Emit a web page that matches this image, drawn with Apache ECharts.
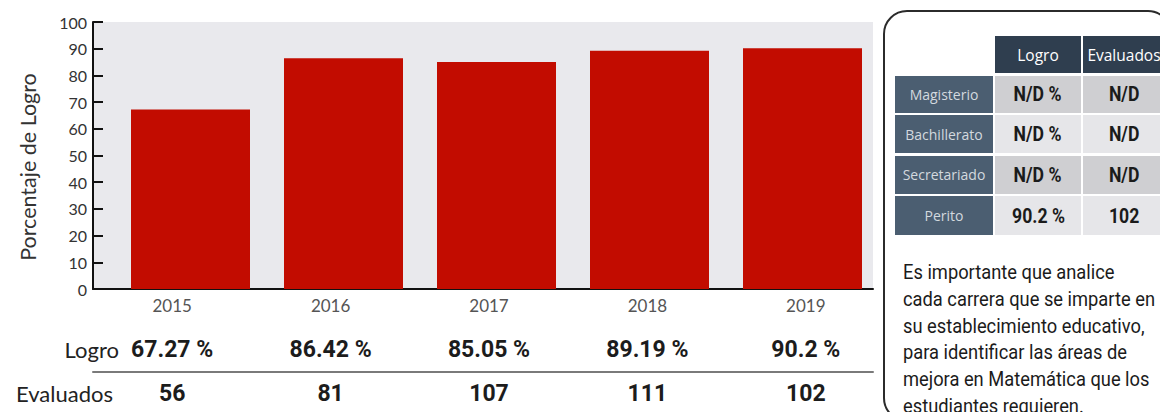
<!DOCTYPE html>
<html lang="es">
<head>
<meta charset="utf-8">
<title>Porcentaje de Logro</title>
<script src="https://cdn.jsdelivr.net/npm/echarts@6/dist/echarts.min.js"></script>
<style>
  html, body { margin: 0; padding: 0; background: #fff; }
  body { width: 1160px; height: 412px; overflow: hidden; position: relative; }
  #chart { position: absolute; left: 0; top: 0; width: 1160px; height: 412px; }
  #panel {
    position: absolute; left: 883px; top: 10px; width: 289px; height: 412px;
    box-sizing: border-box; border: 2px solid #2b2b2b; border-radius: 24px;
  }
  #careers {
    position: absolute; left: 895px; top: 36px;
    display: grid; grid-template-columns: 98px 86px 82px;
    grid-template-rows: 37px 37px 38px 38px 39px;
    column-gap: 2px; row-gap: 2.5px;
  }
  #careers div { display: flex; align-items: center; justify-content: center; white-space: nowrap; overflow: visible; }
  #careers .head { background: #2f3e4f; color: #fff; font: 15.5px "Open Sans", sans-serif; }
  #careers .name { background: #4b5e71; color: #d3d9df; font: 14px "Open Sans", sans-serif; }
  #careers .val { color: #1b1b1b; font: bold 21px Roboto, sans-serif; }
  #careers .val span { display: inline-block; transform: scaleX(0.84); }
  #careers .dark { background: #cfcfd2; }
  #careers .light { background: #e6e6e9; }
  #note {
    position: absolute; left: 903px; top: 259px; width: 290px;
    font: 20px Roboto, sans-serif; line-height: 26.8px; color: #1b1b1b;
    white-space: nowrap; transform: scaleX(0.915); transform-origin: 0 0;
  }
</style>
</head>
<body>
<div id="chart"></div>
<div id="panel"></div>
<div id="careers"></div>
<div id="note">Es importante que analice<br>cada carrera que se imparte en<br>su establecimiento educativo,<br>para identificar las áreas de<br>mejora en Matemática que los<br>estudiantes requieren.</div>
<script>
// Yearly results
const years = ['2015', '2016', '2017', '2018', '2019'];
const logro = [67.27, 86.42, 85.05, 89.19, 90.2];
const evaluados = [56, 81, 107, 111, 102];

// Results by career (null = no data)
const careers = ['Magisterio', 'Bachillerato', 'Secretariado', 'Perito'];
const careerLogro = [null, null, null, 90.2];
const careerEvaluados = [null, null, null, 102];
const careerHeaders = ['Logro', 'Evaluados'];

// Career table
const table = document.getElementById('careers');
const cell = (cls, txt, squeeze) => {
  const d = document.createElement('div');
  if (cls) d.className = cls;
  if (squeeze) {
    const s = document.createElement('span');
    s.textContent = txt;
    d.appendChild(s);
  } else {
    d.textContent = txt;
  }
  table.appendChild(d);
};
cell('', '');
careerHeaders.forEach(h => cell('head', h));
careers.forEach((c, i) => {
  const shade = i % 2 === 0 ? 'dark' : 'light';
  cell('name', c);
  cell('val ' + shade, careerLogro[i] == null ? 'N/D %' : careerLogro[i] + ' %', true);
  cell('val ' + shade, careerEvaluados[i] == null ? 'N/D' : String(careerEvaluados[i]), true);
});

const chart = echarts.init(document.getElementById('chart'), null, { renderer: 'svg' });
const plot = { top: 22, bottom: 123 };
const rowValueLabel = { margin: 0, verticalAlign: 'middle', fontFamily: 'Roboto', fontWeight: 'bold', fontSize: 23, color: '#1c1c1c' };
const rowTitle = { fontFamily: 'Lato', fontSize: 22, color: '#222', verticalAlign: 'middle' };

chart.setOption({
  animation: false,
  grid: [
    // frame: background, value axis, base line
    { left: 93, right: 287, top: plot.top, bottom: plot.bottom, show: true, backgroundColor: '#e9e9ed', borderWidth: 0 },
    // bars
    { left: 114, right: 281, top: plot.top, bottom: plot.bottom },
    // year / logro / evaluados rows
    { left: 93, right: 275, top: plot.top, bottom: plot.bottom }
  ],
  xAxis: [
    { gridIndex: 0, type: 'category', data: years,
      axisLine: { lineStyle: { color: '#111', width: 2 } },
      axisTick: { show: false }, axisLabel: { show: false } },
    { gridIndex: 1, type: 'category', data: years, show: false },
    { gridIndex: 2, type: 'category', data: years,
      axisLine: { show: false }, axisTick: { show: false },
      axisLabel: { margin: 8, fontFamily: 'Lato', fontSize: 17, color: '#555' } },
    { gridIndex: 2, type: 'category', data: logro.map(v => v + ' %'), position: 'bottom', offset: 60,
      axisLine: { show: false }, axisTick: { show: false },
      axisLabel: rowValueLabel,
      name: 'Logro', nameLocation: 'start', nameGap: -26, nameTextStyle: rowTitle },
    { gridIndex: 0, type: 'category', data: years, position: 'bottom', offset: 83,
      axisLine: { lineStyle: { color: '#7a7a7a', width: 2 } },
      axisTick: { show: false }, axisLabel: { show: false } },
    { gridIndex: 2, type: 'category', data: evaluados.map(String), position: 'bottom', offset: 104,
      axisLine: { show: false }, axisTick: { show: false },
      axisLabel: rowValueLabel,
      name: 'Evaluados', nameLocation: 'start', nameGap: -20, nameTextStyle: rowTitle }
  ],
  yAxis: [
    { gridIndex: 0, type: 'value', min: 0, max: 100, interval: 10,
      axisLine: { show: true, lineStyle: { color: '#111', width: 2 } },
      axisTick: { show: true, inside: true, length: 10, lineStyle: { color: '#111', width: 2 } },
      axisLabel: { margin: 6, fontFamily: 'Lato', fontSize: 16, color: '#333' },
      splitLine: { show: false } },
    { gridIndex: 1, type: 'value', min: 0, max: 100, show: false },
    { gridIndex: 2, type: 'value', min: 0, max: 100, show: false }
  ],
  graphic: [{
    type: 'text', x: 28, y: 167, rotation: Math.PI / 2,
    style: { text: 'Porcentaje de Logro', fontFamily: 'Lato', fontSize: 21.5, fill: '#333', align: 'center', verticalAlign: 'middle' }
  }],
  series: [{
    type: 'bar', xAxisIndex: 1, yAxisIndex: 1, data: logro,
    barWidth: 119, itemStyle: { color: '#c20c00' }
  }]
});
</script>
</body>
</html>
